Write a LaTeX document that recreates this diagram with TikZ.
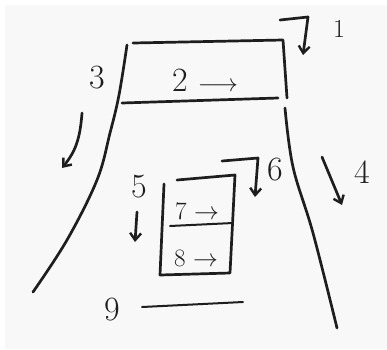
\documentclass[tikz,border=0pt]{standalone}
\usetikzlibrary{arrows.meta}
\definecolor{paper}{HTML}{F8F8F8}
\definecolor{ink}{HTML}{1E1E1E}
\begin{document}
\begin{tikzpicture}[x=1pt,y=-1pt,
  pen/.style={draw=ink,line width=2.7pt,line cap=round,line join=round},
  penthin/.style={draw=ink,line width=2pt,line cap=round,line join=round},
  arr/.style={pen,-{Straight Barb[length=7pt,width=11pt,line width=2.4pt]}},
  lab/.style={text=ink,font=\fontsize{34}{34}\selectfont,inner sep=0pt},
  slab/.style={text=ink,font=\fontsize{25}{25}\selectfont,inner sep=0pt}]
\useasboundingbox (0,0) rectangle (387,349);
\fill[white] (0,0) rectangle (387,349);
\fill[paper] (5,5) rectangle (387,349);
% outer road
\draw[pen] (133,43) -- (283,40) -- (287,98);
\draw[pen] (122,103) -- (278,98);
\draw[pen] plot[smooth,tension=0.6] coordinates {(127,45) (119,95) (110,133) (97,180) (67,240) (33,292)};
\draw[pen] plot[smooth,tension=0.6] coordinates {(285,108) (293,167) (313,233) (337,328)};
% inner box
\draw[pen] (177,180) -- (235,175) -- (230,273) -- (160,275) -- (164,184);
\draw[penthin] (170,226) -- (233,223);
% line 9
\draw[penthin] (142,307) -- (243,302);
% labels
\node[lab,font=\fontsize{26}{26}\selectfont] (n1) at (339,29) {1};
\node[lab] (n2) at (205,80) {2 $\longrightarrow$};
\node[lab] (n3) at (97,78) {3};
\node[lab] (n4) at (362,172) {4};
\node[lab] (n5) at (139,187) {5};
\node[lab] (n6) at (275,170) {6};
\node[slab] (n7) at (197,211) {7 $\rightarrow$};
\node[slab] (n8) at (196,258) {8 $\rightarrow$};
\node[lab] (n9) at (112,310) {9};
% arrows
\coordinate (a1s) at (280,20); \coordinate (a1c) at (308,17); \coordinate (a1e) at (303,55);
\draw[arr] (a1s) -- (a1c) -- (a1e);
\coordinate (a3s) at (82,113); \coordinate (a3e) at (62,168);
\draw[arr] (a3s) .. controls (80,140) and (75,152) .. (a3e);
\coordinate (a4s) at (322,157); \coordinate (a4e) at (342,205);
\draw[arr] (a4s) -- (a4e);
\coordinate (a5s) at (137,212); \coordinate (a5e) at (135,242);
\draw[arr] (a5s) -- (a5e);
\coordinate (a6s) at (222,161); \coordinate (a6c) at (258,158); \coordinate (a6e) at (255,197);
\draw[arr] (a6s) -- (a6c) -- (a6e);
\end{tikzpicture}
\end{document}
